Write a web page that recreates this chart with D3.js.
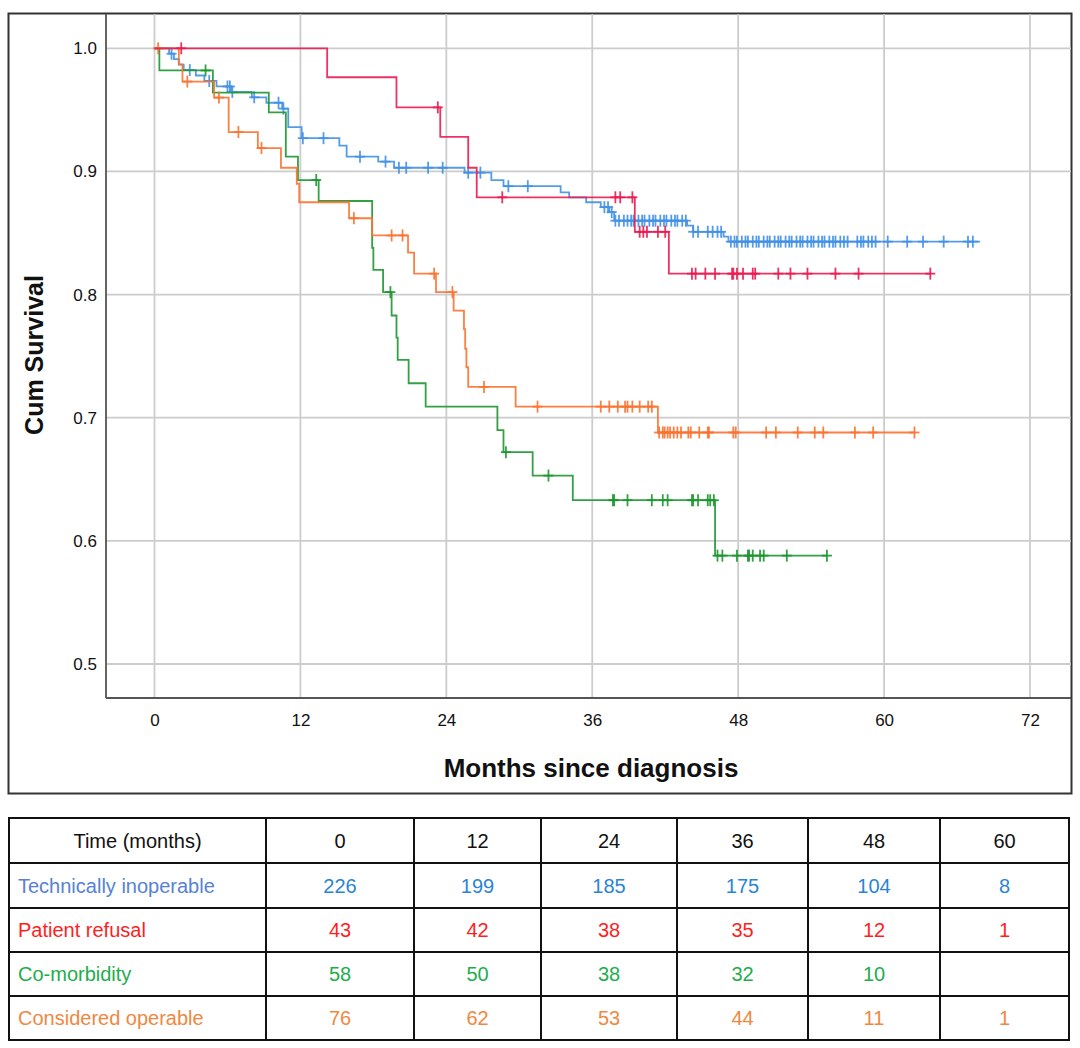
<!DOCTYPE html>
<html>
<head>
<meta charset="utf-8">
<script src="https://cdn.jsdelivr.net/npm/d3@7"></script>
<style>
html,body{margin:0;padding:0;background:#fff;}
svg{display:block;}
text{font-family:"Liberation Sans", Arial, sans-serif;}
</style>
</head>
<body>
<svg id="chart" width="1080" height="1048"></svg>
<script>
// ---------- DATA ----------
const xTicks = [0, 12, 24, 36, 48, 60, 72];
const yTicks = [0.5, 0.6, 0.7, 0.8, 0.9, 1.0];
const yTickLabels = ["0.5", "0.6", "0.7", "0.8", "0.9", "1.0"];

const seriesNames = ["Technically inoperable", "Patient refusal", "Co-morbidity", "Considered operable"];

// Technically inoperable (blue)
const techTimes = [1.2,1.6,2.0,2.4,3.4,4.1,5.1,6.3,8.0,9.2,10.5,11.0,12.1,15.2,15.8,18.4,19.7,25.5,27.7,28.7,33.4,34.1,35.5,36.7,37.4,37.8,43.8,44.3,46.8,47.2];
const techSurv  = [0.9956,0.9912,0.9867,0.9823,0.9779,0.9735,0.969,0.9646,0.9602,0.9558,0.951,0.936,0.927,0.921,0.912,0.908,0.903,0.899,0.893,0.888,0.883,0.879,0.875,0.871,0.867,0.860,0.856,0.851,0.847,0.843];
const techCensor = [1.4,2.9,4.5,6.0,6.2,6.4,8.2,10.2,10.6,12.2,13.9,16.9,19.0,20.1,20.7,22.5,23.7,25.8,26.8,29.1,30.7,
  37.0,37.3,37.6,37.9,38.2,38.6,38.9,39.2,39.4,39.8,40.1,40.3,40.7,41.0,41.2,41.6,41.9,42.1,42.5,42.8,43.0,43.4,43.7,
  44.3,44.7,45.5,45.9,46.3,46.6,
  47.4,47.7,47.9,48.3,48.6,48.8,49.2,49.5,49.7,50.1,50.4,50.6,51.0,51.3,51.5,51.9,52.2,52.4,52.8,53.1,53.3,53.7,54.0,54.2,
  54.6,54.9,55.1,55.5,55.8,56.0,56.4,56.7,57.0,57.8,58.1,58.3,58.7,59.0,59.3,60.3,61.9,63.2,64.9,66.9,67.3];
const techEnd = 67.9;

// Patient refusal (red)
const refTimes = [14.2,19.9,23.5,25.8,26.5,39.5,42.3];
const refSurv  = [0.9765,0.952,0.928,0.903,0.879,0.851,0.817];
const refCensor = [2.2,23.3,28.6,37.9,38.3,39.3,39.9,40.2,40.5,41.4,42.0,44.2,44.5,45.3,46.1,47.5,47.6,47.9,48.4,49.2,49.4,51.3,52.3,53.7,56.0,57.9,63.8];
const refEnd = 63.8;

// Co-morbidity (green)
const comTimes = [0.4,4.8,9.4,10.8,11.8,13.5,17.9,18.0,18.8,19.5,19.9,20.0,20.9,22.3,28.2,28.7,31.1,34.4,46.1];
const comSurv  = [0.982,0.964,0.948,0.912,0.893,0.876,0.838,0.820,0.802,0.783,0.765,0.747,0.728,0.709,0.690,0.672,0.653,0.633,0.588];
const comCensor = [4.2,13.3,19.4,28.9,32.4,37.7,37.8,38.9,40.9,41.8,42.2,44.2,44.3,44.7,45.5,45.7,46.0,46.3,46.7,47.9,48.8,48.9,49.2,49.8,50.1,52.0,55.3];
const comEnd = 55.3;

// Considered operable (orange)
const opTimes = [2.0,2.3,4.9,6.1,8.5,10.4,11.7,11.9,16.0,17.9,20.85,21.35,23.15,24.6,25.45,25.55,25.65,25.8,29.7,41.4];
const opSurv  = [0.987,0.973,0.960,0.932,0.919,0.903,0.890,0.875,0.862,0.848,0.834,0.817,0.802,0.787,0.772,0.756,0.741,0.725,0.709,0.688];
const opCensor = [0.3,2.7,5.3,6.9,8.8,16.4,19.5,20.4,23.0,24.5,27.1,31.5,36.7,37.4,38.1,38.7,38.9,39.3,39.9,40.6,40.9,41.5,41.8,41.95,42.2,42.4,42.7,43.0,43.3,43.9,44.1,44.8,45.5,45.6,47.6,47.8,50.3,51.1,52.9,54.3,55.0,57.6,59.1,62.5];
const opEnd = 62.5;

// Numbers at risk table
const tableHeader = "Time (months)";
const tableTimes = [0, 12, 24, 36, 48, 60];
const atRiskTech = [226, 199, 185, 175, 104, 8];
const atRiskRef  = [43, 42, 38, 35, 12, 1];
const atRiskCom  = [58, 50, 38, 32, 10, null];
const atRiskOp   = [76, 62, 53, 44, 11, 1];

// ---------- STYLE ----------
const lineColors  = ["#4391e6", "#ea1c52", "#1d9630", "#fb7230"];
const labelColors = ["#5782d4", "#ff1e1e", "#22ad4c", "#f0883f"];
const valueColors = ["#2b84d4", "#ff1e1e", "#22ad4c", "#f0883f"];

const svg = d3.select("#chart");

// frame
svg.append("rect").attr("x", 8.5).attr("y", 13.5).attr("width", 1063).attr("height", 780)
  .attr("fill", "none").attr("stroke", "#333").attr("stroke-width", 2);

const x = d3.scaleLinear().domain([0, 72]).range([154.5, 1030]);
const y = d3.scaleLinear().domain([0.5, 1.0]).range([664, 48.3]);
const plotLeft = 106, plotRight = 1071, plotTop = 14, plotBottom = 698;

// grid
const grid = svg.append("g");
grid.selectAll("line.v").data(xTicks).join("line")
  .attr("x1", d => x(d)).attr("x2", d => x(d))
  .attr("y1", plotTop).attr("y2", plotBottom)
  .attr("stroke", "#cccccc").attr("stroke-width", 1.8);
grid.selectAll("line.h").data(yTicks).join("line")
  .attr("x1", plotLeft).attr("x2", plotRight)
  .attr("y1", d => y(d)).attr("y2", d => y(d))
  .attr("stroke", "#cccccc").attr("stroke-width", 1.8);

// axes
const xAxis = d3.axisBottom(x).tickValues(xTicks).tickSize(0).tickPadding(16);
const gx = svg.append("g").attr("transform", `translate(0,${plotBottom})`).call(xAxis);
gx.select(".domain").remove();
gx.selectAll("text").attr("font-size", 17).attr("fill", "#111").style("font-family", '"Liberation Sans", Arial, sans-serif');

const yAxis = d3.axisLeft(y).tickValues(yTicks).tickFormat((d, i) => yTickLabels[i]).tickSize(0).tickPadding(9);
const gy = svg.append("g").attr("transform", `translate(${plotLeft},0)`).call(yAxis);
gy.select(".domain").remove();
gy.selectAll("text").attr("font-size", 17).attr("fill", "#111").style("font-family", '"Liberation Sans", Arial, sans-serif');

svg.append("line").attr("x1", plotLeft).attr("x2", plotLeft).attr("y1", plotTop).attr("y2", plotBottom)
  .attr("stroke", "#555").attr("stroke-width", 1.8);
svg.append("line").attr("x1", plotLeft).attr("x2", plotRight).attr("y1", plotBottom).attr("y2", plotBottom)
  .attr("stroke", "#555").attr("stroke-width", 1.8);

// axis titles
svg.append("text").attr("x", 591).attr("y", 777).attr("text-anchor", "middle")
  .attr("font-size", 26).attr("font-weight", "bold").attr("fill", "#111").text("Months since diagnosis");
svg.append("text").attr("transform", "translate(43,355) rotate(-90)").attr("text-anchor", "middle")
  .attr("font-size", 25).attr("font-weight", "bold").attr("fill", "#111").text("Cum Survival");

// curves
const series = [
  {times: techTimes, surv: techSurv, censor: techCensor, end: techEnd, color: lineColors[0]},
  {times: comTimes,  surv: comSurv,  censor: comCensor,  end: comEnd,  color: lineColors[2]},
  {times: opTimes,   surv: opSurv,   censor: opCensor,   end: opEnd,   color: lineColors[3]},
  {times: refTimes,  surv: refSurv,  censor: refCensor,  end: refEnd,  color: lineColors[1]}
];

function survAt(s, t) {
  let v = 1.0;
  for (let i = 0; i < s.times.length; i++) { if (s.times[i] <= t) v = s.surv[i]; }
  return v;
}

const line = d3.line().x(d => x(d[0])).y(d => y(d[1])).curve(d3.curveStepAfter);
const curves = svg.append("g");
series.forEach(s => {
  const pts = [[0, 1.0]];
  s.times.forEach((t, i) => pts.push([t, s.surv[i]]));
  pts.push([s.end, s.surv[s.surv.length - 1]]);
  const g = curves.append("g");
  g.append("path").attr("d", line(pts)).attr("fill", "none")
    .attr("stroke", s.color).attr("stroke-width", 1.8).attr("stroke-opacity", 0.9);
  const c = g.selectAll("g.c").data(s.censor).join("g")
    .attr("transform", d => `translate(${x(d)},${y(survAt(s, d))})`);
  c.append("line").attr("x1", 0).attr("x2", 0).attr("y1", -6).attr("y2", 6)
    .attr("stroke", s.color).attr("stroke-width", 1.8).attr("stroke-opacity", 0.9);
  c.append("line").attr("x1", -5).attr("x2", 5).attr("y1", 0).attr("y2", 0)
    .attr("stroke", s.color).attr("stroke-width", 1.8).attr("stroke-opacity", 0.9);
});

// ---------- TABLE ----------
const colEdges = [9, 266, 414, 541, 677, 808, 940, 1069];
const rowEdges = [818, 863, 908, 952, 996, 1040];
const tbl = svg.append("g");
const rows = [
  {label: seriesNames[0], vals: atRiskTech, lc: labelColors[0], vc: valueColors[0]},
  {label: seriesNames[1], vals: atRiskRef,  lc: labelColors[1], vc: valueColors[1]},
  {label: seriesNames[2], vals: atRiskCom,  lc: labelColors[2], vc: valueColors[2]},
  {label: seriesNames[3], vals: atRiskOp,   lc: labelColors[3], vc: valueColors[3]}
];
rowEdges.forEach(r => tbl.append("line").attr("x1", colEdges[0] - 1).attr("x2", colEdges[colEdges.length - 1] + 1)
  .attr("y1", r).attr("y2", r).attr("stroke", "#111").attr("stroke-width", 2));
colEdges.forEach(c => tbl.append("line").attr("x1", c).attr("x2", c)
  .attr("y1", rowEdges[0]).attr("y2", rowEdges[rowEdges.length - 1]).attr("stroke", "#111").attr("stroke-width", 2));

const mid = (a, b) => (a + b) / 2;
tbl.append("text").attr("x", mid(colEdges[0], colEdges[1])).attr("y", mid(rowEdges[0], rowEdges[1]) + 7)
  .attr("text-anchor", "middle").attr("font-size", 20).attr("fill", "#111").text(tableHeader);
tableTimes.forEach((t, i) => tbl.append("text").attr("x", mid(colEdges[i + 1], colEdges[i + 2]))
  .attr("y", mid(rowEdges[0], rowEdges[1]) + 7).attr("text-anchor", "middle")
  .attr("font-size", 20).attr("fill", "#111").text(t));
rows.forEach((r, ri) => {
  const cy = mid(rowEdges[ri + 1], rowEdges[ri + 2]) + 7;
  tbl.append("text").attr("x", 18).attr("y", cy).attr("font-size", 20).attr("fill", r.lc).text(r.label);
  r.vals.forEach((v, i) => {
    if (v === null) return;
    tbl.append("text").attr("x", mid(colEdges[i + 1], colEdges[i + 2])).attr("y", cy)
      .attr("text-anchor", "middle").attr("font-size", 20).attr("fill", r.vc).text(v);
  });
});
</script>
</body>
</html>
